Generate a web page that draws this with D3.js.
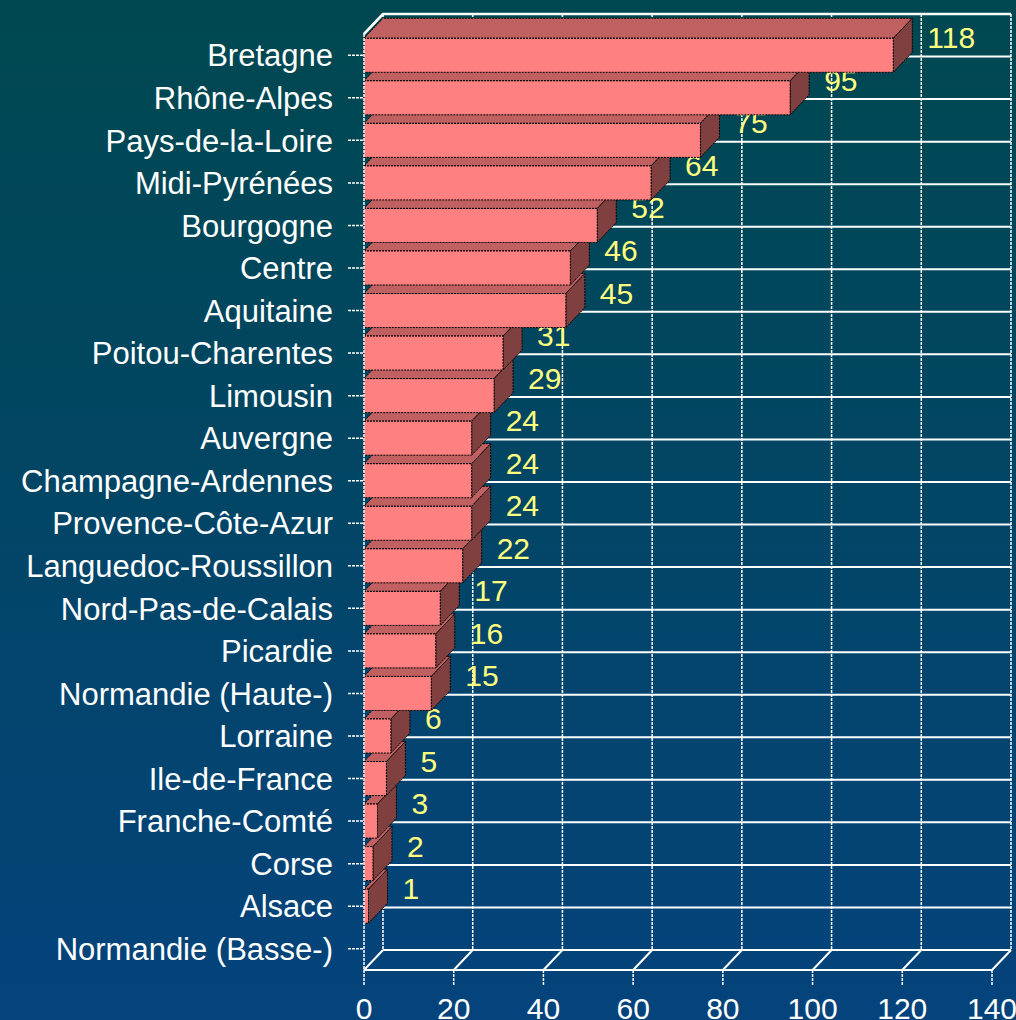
<html>
<script src='https://d3js.org/d3.v7.min.js'></script>
<style>
body {margin:0; background:#003f66;}
text {font-family: "Liberation Sans", Arial, sans-serif;}
</style>
<body onload='init()'>
<svg width=1016 height=1020></svg>
<script>
// regions from top to bottom, with their counts
var regions = ["Bretagne","Rhône-Alpes","Pays-de-la-Loire","Midi-Pyrénées","Bourgogne","Centre","Aquitaine",
  "Poitou-Charentes","Limousin","Auvergne","Champagne-Ardennes","Provence-Côte-Azur","Languedoc-Roussillon",
  "Nord-Pas-de-Calais","Picardie","Normandie (Haute-)","Lorraine","Ile-de-France","Franche-Comté","Corse",
  "Alsace","Normandie (Basse-)"];
var counts = [118,95,75,64,52,46,45,31,29,24,24,24,22,17,16,15,6,5,3,2,1,0];
var xTicks = [0,20,40,60,80,100,120,140];

function init() {
  var svg = d3.select("svg");
  var dx = 19, dy = -20;   // depth of the 3d box
  var x = d3.scaleLinear().domain([0,140]).range([364,992]);
  var y = d3.scaleBand().domain(regions).range([34,970]).padding(0);
  var half = y.bandwidth()*0.4;

  var defs = svg.append("defs");
  var grad = defs.append("linearGradient").attr("id","bg").attr("x1",0).attr("y1",0).attr("x2",0).attr("y2",1);
  grad.append("stop").attr("offset","0%").attr("stop-color","#004850");
  grad.append("stop").attr("offset","100%").attr("stop-color","#04437c");
  svg.append("rect").attr("width",1016).attr("height",1020).attr("fill","url(#bg)");

  var g = svg.append("g");
  var top = y.range()[0], bot = y.range()[1];

  // back wall verticals
  g.selectAll(".vg").data(xTicks).enter().append("line")
    .attr("x1", d => x(d)+dx).attr("x2", d => x(d)+dx)
    .attr("y1", top+dy).attr("y2", bot+dy)
    .attr("stroke","white").attr("stroke-width",1.5).attr("stroke-dasharray","3,1");
  // back wall horizontals at band edges
  var edges = regions.map(r => y(r)).concat([bot]);
  g.selectAll(".hg").data(edges).enter().append("line")
    .attr("x1", x(0)+dx).attr("x2", x(140)+dx)
    .attr("y1", d => d+dy).attr("y2", d => d+dy)
    .attr("stroke","white").attr("stroke-width",2);
  // floor
  g.append("line").attr("x1",x(0)).attr("x2",x(140)).attr("y1",bot).attr("y2",bot)
    .attr("stroke","white").attr("stroke-width",2);
  g.selectAll(".fd").data(xTicks).enter().append("line")
    .attr("x1", d => x(d)).attr("x2", d => x(d)+dx)
    .attr("y1", bot).attr("y2", bot+dy)
    .attr("stroke","white").attr("stroke-width",2);
  // top edge of the wall
  g.append("polyline")
    .attr("points", [[x(0),top],[x(0)+dx,top+dy],[x(140)+dx,top+dy]].join(" "))
    .attr("fill","none").attr("stroke","white").attr("stroke-width",2.5);

  // bars, drawn bottom to top
  var rows = regions.map((r,i) => ({r:r, v:counts[i]})).reverse();
  rows.forEach(function(d) {
    var c = y(d.r) + y.bandwidth()/2;
    var y0 = c-half, y1 = c+half, x0 = x(0), x1 = x(d.v);
    var bg = g.append("g");
    if (d.v > 0) {
      bg.append("path")
        .attr("d", d3.line()([[x0,y0],[x1,y0],[x1+dx,y0+dy],[x0+dx,y0+dy]])+"Z")
        .attr("fill","#c06060");
      bg.append("path")
        .attr("d", d3.line()([[x1,y0],[x1+dx,y0+dy],[x1+dx,y1+dy],[x1,y1]])+"Z")
        .attr("fill","#804040");
      bg.append("rect").attr("x",x0).attr("y",y0).attr("width",x1-x0).attr("height",y1-y0)
        .attr("fill","#ff8080");
      bg.selectAll("path,rect").attr("stroke","black").attr("stroke-width",1)
        .attr("stroke-dasharray","2,1").attr("stroke-linejoin","round");
      bg.append("text").attr("x", x1+dx+15).attr("y", c-7)
        .attr("fill","#ffff80").attr("font-size",30).text(d.v);
    }
  });

  // left axis
  g.append("line").attr("x1",x(0)).attr("x2",x(0)).attr("y1",top).attr("y2",bot)
    .attr("stroke","white").attr("stroke-width",1.5).attr("stroke-dasharray","3,1");
  g.append("line").attr("x1",x(0)).attr("x2",x(0)+dx).attr("y1",top).attr("y2",top+dy)
    .attr("stroke","white").attr("stroke-width",2.5);

  // category ticks and labels
  var cat = g.selectAll(".cat").data(regions).enter().append("g")
    .attr("transform", d => "translate(0," + (y(d)+y.bandwidth()/2) + ")");
  cat.append("line").attr("x1",348).attr("x2",x(0)).attr("stroke","white")
    .attr("stroke-width",1.5).attr("stroke-dasharray","3,1");
  cat.append("text").attr("x",333).attr("dy","0.36em").attr("text-anchor","end")
    .attr("fill","white").attr("font-size",31).text(d => d);

  // value ticks and labels
  var xt = g.selectAll(".xt").data(xTicks).enter().append("g")
    .attr("transform", d => "translate(" + x(d) + ",0)");
  xt.append("line").attr("y1",bot).attr("y2",bot+15).attr("stroke","white")
    .attr("stroke-width",1.5).attr("stroke-dasharray","3,1");
  xt.append("text").attr("y",1019).attr("text-anchor","middle")
    .attr("fill","white").attr("font-size",30).text(d => d);
}
</script>
</body>
</html>
